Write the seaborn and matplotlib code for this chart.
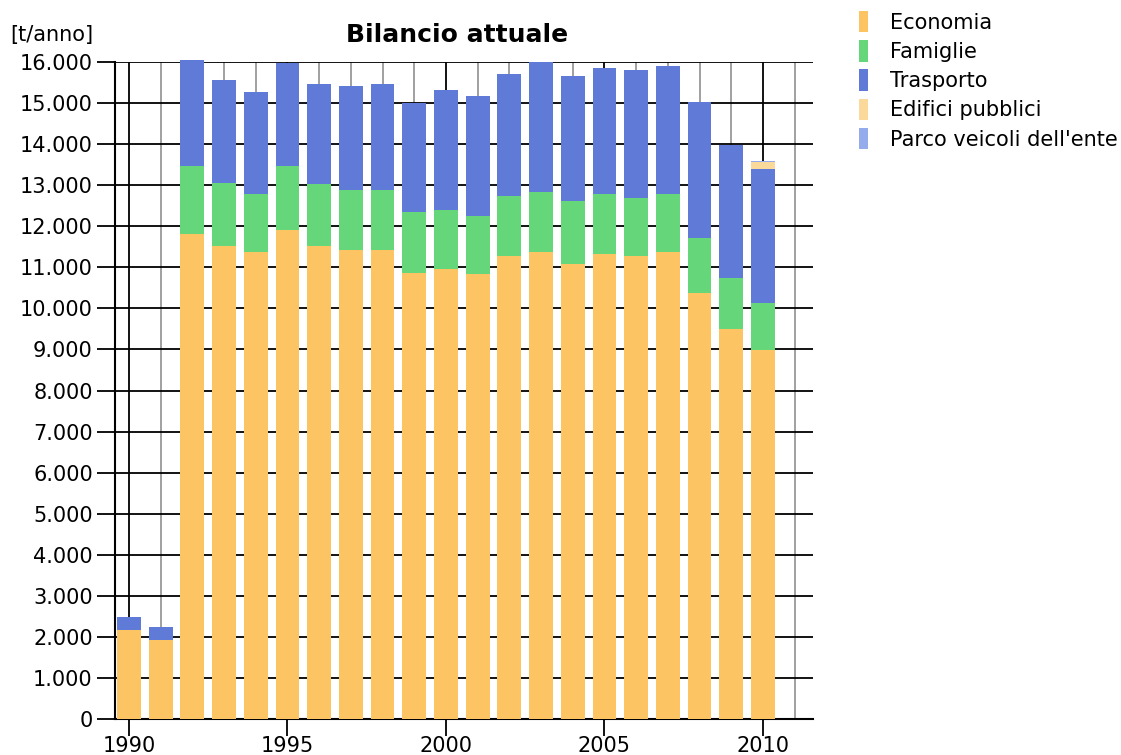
import matplotlib
matplotlib.use("Agg")
import matplotlib.pyplot as plt
from matplotlib.patches import Patch
from matplotlib.ticker import FuncFormatter, MultipleLocator
import pandas as pd
import seaborn as sns

years = list(range(1990, 2011))
economia = [2170, 1920, 11810, 11520, 11380, 11910, 11520, 11420, 11420, 10870, 10950,
            10830, 11280, 11370, 11070, 11320, 11280, 11370, 10380, 9500, 8980]
famiglie = [0, 0, 1650, 1540, 1400, 1560, 1500, 1460, 1460, 1480, 1450,
            1420, 1460, 1470, 1540, 1460, 1400, 1410, 1330, 1230, 1160]
trasporto = [320, 330, 2600, 2500, 2490, 2500, 2450, 2540, 2590, 2650, 2920,
             2910, 2960, 3160, 3040, 3070, 3120, 3120, 3310, 3260, 3250]
edifici = [0] * 20 + [170]
parco = [0] * 20 + [40]

sectors = ["Economia", "Famiglie", "Trasporto", "Edifici pubblici", "Parco veicoli dell'ente"]
colors = ["#FDC463", "#66D67A", "#607AD8", "#FBD99A", "#94ACEC"]

rows = []
for name, vals in zip(sectors, [economia, famiglie, trasporto, edifici, parco]):
    for y, v in zip(years, vals):
        rows.append({"anno": y, "settore": name, "t": v})
df = pd.DataFrame(rows)

sns.set_style("white")
plt.rcParams["font.family"] = ["DejaVu Sans"]
plt.rcParams["text.color"] = "black"
plt.rcParams["xtick.color"] = "black"
plt.rcParams["ytick.color"] = "black"

fig = plt.figure(figsize=(11.21, 7.55), dpi=100)
ax = fig.add_axes([115 / 1121, 1 - 719 / 755, (813 - 115) / 1121, (719 - 62) / 755])

# seaborn stacks the first hue level on top, so reverse the order
order = sectors[::-1]
palette = dict(zip(sectors, colors))
sns.histplot(data=df, x="anno", weights="t", hue="settore", hue_order=order,
             palette=palette, multiple="stack", discrete=True, shrink=0.75,
             alpha=1, linewidth=0, edgecolor="none", legend=False, ax=ax, zorder=3)
for p in ax.patches:
    p.set_clip_on(False)

ax.set_xlim(1989.56, 2011.58)
ax.set_ylim(0, 16000)
ax.set_xlabel("")
ax.set_ylabel("")

ax.xaxis.set_major_locator(MultipleLocator(5))
ax.xaxis.set_minor_locator(MultipleLocator(1))
ax.yaxis.set_major_locator(MultipleLocator(1000))
ax.yaxis.set_major_formatter(FuncFormatter(lambda v, p: f"{int(v):,}".replace(",", ".")))

ax.set_axisbelow(True)
ax.grid(True, which="major", axis="both", color="black", linewidth=1.3, zorder=0)
ax.grid(True, which="minor", axis="x", color="#999999", linewidth=1.3, zorder=0)

ax.tick_params(axis="y", which="major", direction="out", length=13, width=1.3,
               labelsize=15, pad=3, left=True)
ax.tick_params(axis="x", which="major", direction="out", length=12, width=1.3,
               labelsize=15, pad=0, bottom=True)
ax.tick_params(axis="x", which="minor", length=0)

for side in ["top", "right"]:
    ax.spines[side].set_visible(False)
for side in ["left", "bottom"]:
    ax.spines[side].set_color("black")
    ax.spines[side].set_linewidth(1.5)

fig.text(457 / 1121, 1 - 35 / 755, "Bilancio attuale", ha="center", va="center",
         fontsize=18, fontweight="bold")
fig.text(10 / 1121, 1 - 35 / 755, "[t/anno]", ha="left", va="center", fontsize=15)

handles = [Patch(facecolor=c, edgecolor="none") for c in colors]
fig.legend(handles, sectors, loc="upper left", bbox_to_anchor=(859 / 1121, 1 - 11 / 755),
           frameon=False, fontsize=15, handlelength=0.45, handleheight=1.2,
           handletextpad=1.05, labelspacing=0.36, borderpad=0, borderaxespad=0)

fig.savefig("out.png", dpi=100)
